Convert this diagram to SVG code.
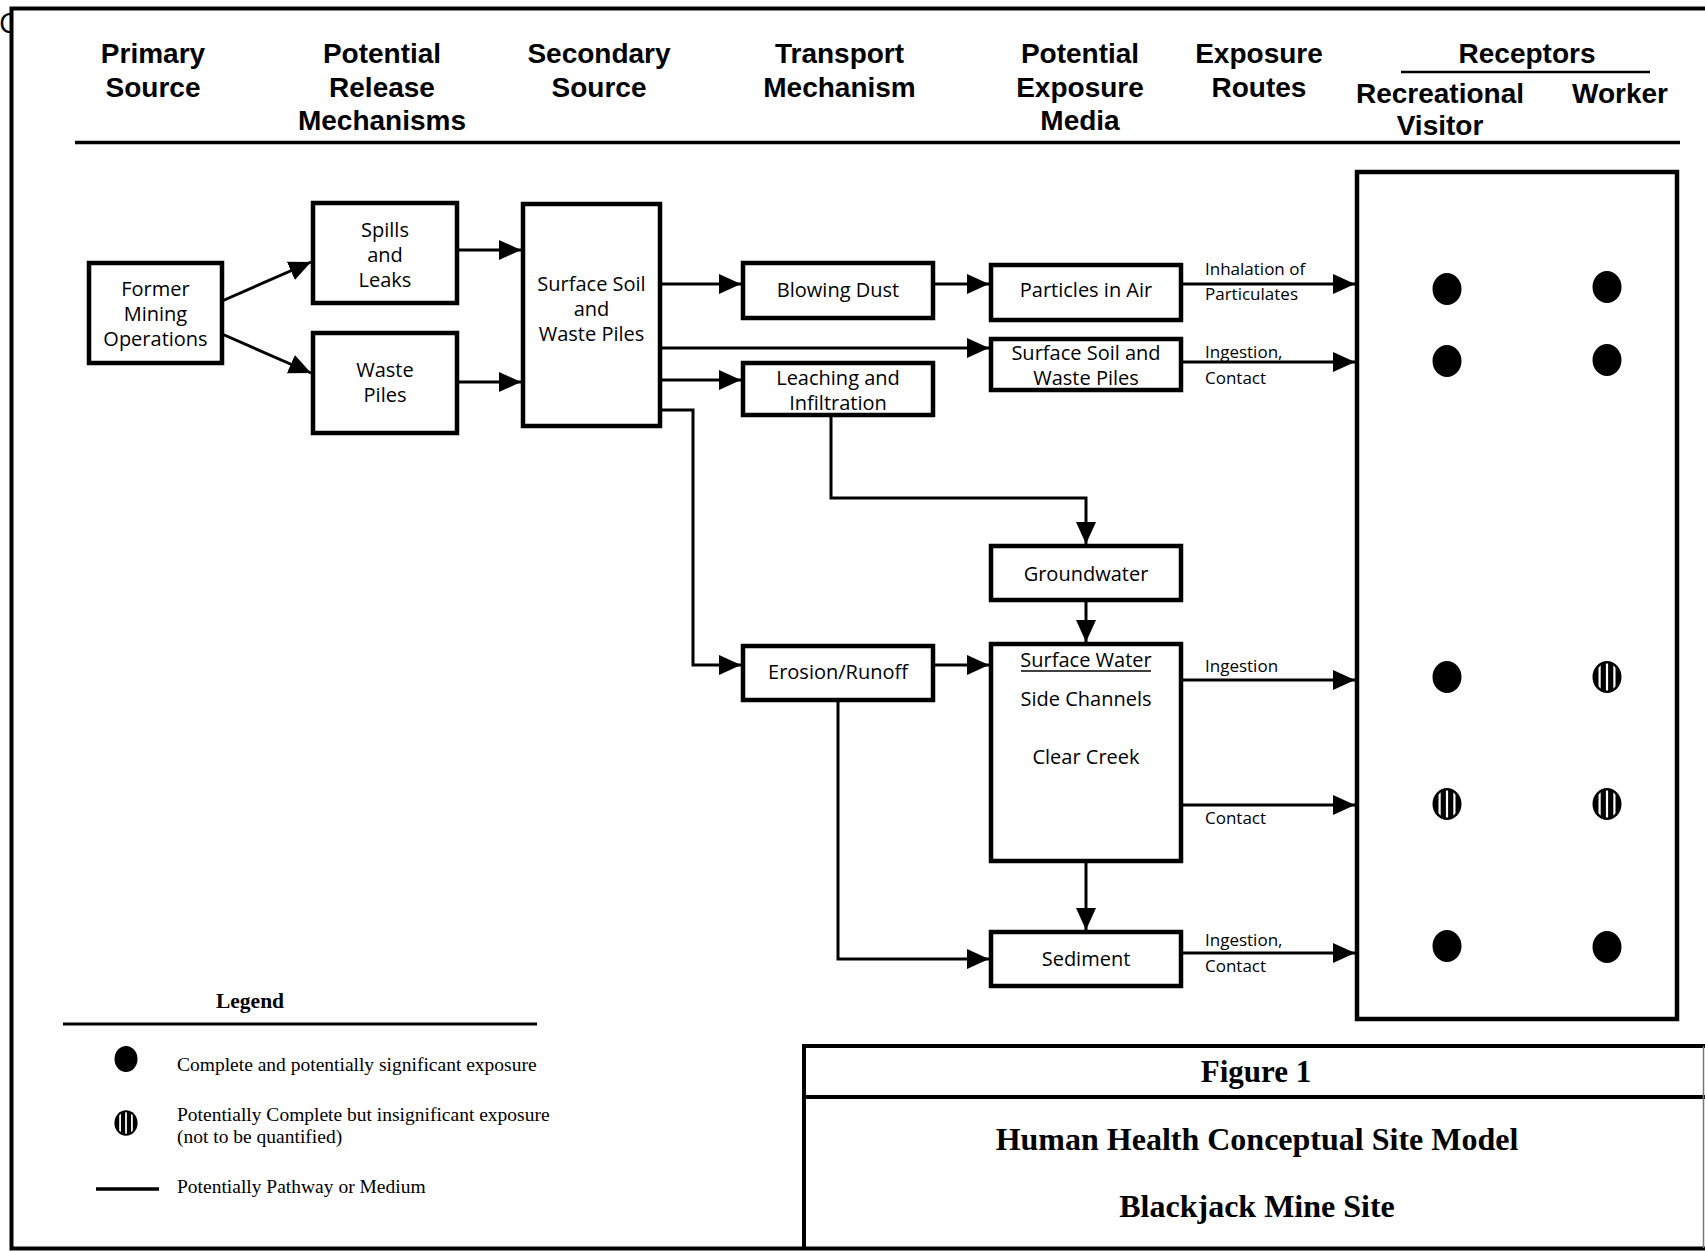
<svg xmlns="http://www.w3.org/2000/svg" xmlns:xlink="http://www.w3.org/1999/xlink" width="1705" height="1251" viewBox="0 0 1705 1251">
<style>
.hd{font-family:"Liberation Sans",Arial,sans-serif;font-weight:bold;font-size:28px;fill:#000;text-anchor:middle}
.bx{fill:#fff;stroke:#000;stroke-width:4.5}
.bt{font-family:"Open Sans","Liberation Sans",sans-serif;font-size:20px;fill:#000;text-anchor:middle}
.lb{font-family:"Open Sans","Liberation Sans",sans-serif;font-size:17px;fill:#000}
.cn{fill:none;stroke:#000;stroke-width:3}
.ln{stroke:#000;stroke-width:3.5}
.lg{font-family:"Liberation Serif","Times New Roman",serif;font-size:19.5px;fill:#000}
.ti{font-family:"Liberation Serif","Times New Roman",serif;font-weight:bold;fill:#000;text-anchor:middle}
</style>
<defs>
<marker id="ah" markerUnits="userSpaceOnUse" markerWidth="22" markerHeight="20" refX="22" refY="10" orient="auto">
<path d="M0,0 L22,10 L0,20 z" fill="#000"/>
</marker>
<clipPath id="clipC"><rect x="0" y="0" width="10" height="40"/></clipPath>
<clipPath id="stripeClip"><ellipse cx="0" cy="0" rx="12" ry="13.5"/></clipPath>
<g id="dot"><ellipse cx="0" cy="0" rx="14.5" ry="16" fill="#000"/></g>
<g id="sdot">
<ellipse cx="0" cy="0" rx="14.5" ry="16" fill="#000"/>
<g clip-path="url(#stripeClip)" fill="#fff">
<rect x="-8.5" y="-16" width="2.2" height="32"/>
<rect x="-1.1" y="-16" width="2.2" height="32"/>
<rect x="6.3" y="-16" width="2.2" height="32"/>
</g>
</g>
</defs>
<rect width="1705" height="1251" fill="#fff"/>

<text x="-1" y="33" clip-path="url(#clipC)" style="font-family:'Open Sans',sans-serif;font-size:28px">C</text>

<!-- frame -->
<g id="frame" fill="none" stroke="#000">
<path d="M1705,8.5 H11.5 V1248.5 H1705" stroke-width="4"/>
</g>

<!-- headers -->
<g id="headers">
<text class="hd" x="153" y="63">Primary</text>
<text class="hd" x="153" y="97">Source</text>
<text class="hd" x="382" y="63">Potential</text>
<text class="hd" x="382" y="97">Release</text>
<text class="hd" x="382" y="130">Mechanisms</text>
<text class="hd" x="599" y="63">Secondary</text>
<text class="hd" x="599" y="97">Source</text>
<text class="hd" x="839.5" y="63">Transport</text>
<text class="hd" x="839.5" y="97">Mechanism</text>
<text class="hd" x="1080" y="63">Potential</text>
<text class="hd" x="1080" y="97">Exposure</text>
<text class="hd" x="1080" y="130">Media</text>
<text class="hd" x="1259" y="63">Exposure</text>
<text class="hd" x="1259" y="97">Routes</text>
<text class="hd" x="1527" y="63">Receptors</text>
<line class="ln" x1="1401" y1="72" x2="1650" y2="72" style="stroke-width:2.5"/>
<text class="hd" x="1440" y="103">Recreational</text>
<text class="hd" x="1440" y="135">Visitor</text>
<text class="hd" x="1620" y="103">Worker</text>
<line class="ln" x1="75" y1="142.5" x2="1680" y2="142.5"/>
</g>

<!-- connectors -->
<g id="connectors">
<path class="cn" d="M222,301 L311,262" marker-end="url(#ah)"/>
<path class="cn" d="M222,334 L311,373" marker-end="url(#ah)"/>
<path class="cn" d="M457,250 H521" marker-end="url(#ah)"/>
<path class="cn" d="M457,382 H521" marker-end="url(#ah)"/>
<path class="cn" d="M660,284 H741" marker-end="url(#ah)"/>
<path class="cn" d="M933,284 H989" marker-end="url(#ah)"/>
<path class="cn" d="M660,348 H989" marker-end="url(#ah)"/>
<path class="cn" d="M660,380 H741" marker-end="url(#ah)"/>
<path class="cn" d="M660,410 H693 V665 H741" marker-end="url(#ah)"/>
<path class="cn" d="M831,415 V498 H1086 V544" marker-end="url(#ah)"/>
<path class="cn" d="M1086,600 V642" marker-end="url(#ah)"/>
<path class="cn" d="M933,665 H989" marker-end="url(#ah)"/>
<path class="cn" d="M838,700 V959 H989" marker-end="url(#ah)"/>
<path class="cn" d="M1086,861 V930" marker-end="url(#ah)"/>
<path class="cn" d="M1181,284 H1355" marker-end="url(#ah)"/>
<path class="cn" d="M1181,362 H1355" marker-end="url(#ah)"/>
<path class="cn" d="M1181,680 H1355" marker-end="url(#ah)"/>
<path class="cn" d="M1181,805 H1355" marker-end="url(#ah)"/>
<path class="cn" d="M1181,953 H1355" marker-end="url(#ah)"/>
<text class="lb" x="1205" y="275">Inhalation of</text>
<text class="lb" x="1205" y="300">Particulates</text>
<text class="lb" x="1205" y="358">Ingestion,</text>
<text class="lb" x="1205" y="384">Contact</text>
<text class="lb" x="1205" y="672">Ingestion</text>
<text class="lb" x="1205" y="824">Contact</text>
<text class="lb" x="1205" y="946">Ingestion,</text>
<text class="lb" x="1205" y="972">Contact</text>
</g>

<!-- nodes -->
<g id="former">
<rect class="bx" x="89" y="263" width="133" height="100"/>
<text class="bt" x="155.5" y="296">Former</text>
<text class="bt" x="155.5" y="321">Mining</text>
<text class="bt" x="155.5" y="346">Operations</text>
</g>
<g id="spills">
<rect class="bx" x="313" y="203" width="144" height="100"/>
<text class="bt" x="385" y="237">Spills</text>
<text class="bt" x="385" y="262">and</text>
<text class="bt" x="385" y="287">Leaks</text>
</g>
<g id="wastepiles">
<rect class="bx" x="313" y="333" width="144" height="100"/>
<text class="bt" x="385" y="377">Waste</text>
<text class="bt" x="385" y="402">Piles</text>
</g>
<g id="secondary">
<rect class="bx" x="523" y="204" width="137" height="222"/>
<text class="bt" x="591.5" y="291">Surface Soil</text>
<text class="bt" x="591.5" y="316">and</text>
<text class="bt" x="591.5" y="341">Waste Piles</text>
</g>
<g id="blowingdust">
<rect class="bx" x="743" y="263" width="190" height="55"/>
<text class="bt" x="838" y="297">Blowing Dust</text>
</g>
<g id="leaching">
<rect class="bx" x="743" y="363" width="190" height="52"/>
<text class="bt" x="838" y="385">Leaching and</text>
<text class="bt" x="838" y="410">Infiltration</text>
</g>
<g id="erosion">
<rect class="bx" x="743" y="646" width="190" height="54"/>
<text class="bt" x="838" y="679">Erosion/Runoff</text>
</g>
<g id="particles">
<rect class="bx" x="991" y="265" width="190" height="55"/>
<text class="bt" x="1086" y="297">Particles in Air</text>
</g>
<g id="mediasoil">
<rect class="bx" x="991" y="339" width="190" height="51"/>
<text class="bt" x="1086" y="360">Surface Soil and</text>
<text class="bt" x="1086" y="385">Waste Piles</text>
</g>
<g id="groundwater">
<rect class="bx" x="991" y="546" width="190" height="54"/>
<text class="bt" x="1086" y="581">Groundwater</text>
</g>
<g id="surfacewater">
<rect class="bx" x="991" y="644" width="190" height="217"/>
<text class="bt" x="1086" y="667">Surface Water</text>
<line x1="1021" y1="671" x2="1151" y2="671" stroke="#000" stroke-width="1.5"/>
<text class="bt" x="1086" y="706">Side Channels</text>
<text class="bt" x="1086" y="764">Clear Creek</text>
</g>
<g id="sediment">
<rect class="bx" x="991" y="932" width="190" height="54"/>
<text class="bt" x="1086" y="966">Sediment</text>
</g>
<g id="receptors">
<rect class="bx" x="1357" y="172" width="320" height="847"/>
<use xlink:href="#dot" x="1447" y="289"/>
<use xlink:href="#dot" x="1607" y="287"/>
<use xlink:href="#dot" x="1447" y="361"/>
<use xlink:href="#dot" x="1607" y="360"/>
<use xlink:href="#dot" x="1447" y="677"/>
<use xlink:href="#sdot" x="1607" y="677"/>
<use xlink:href="#sdot" x="1447" y="804"/>
<use xlink:href="#sdot" x="1607" y="804"/>
<use xlink:href="#dot" x="1447" y="946"/>
<use xlink:href="#dot" x="1607" y="947"/>
</g>

<!-- legend -->
<g id="legend">
<text class="ti" x="250" y="1008" style="font-size:21.5px">Legend</text>
<line class="ln" x1="63" y1="1024" x2="537" y2="1024" style="stroke-width:3"/>
<ellipse cx="126" cy="1059" rx="11.5" ry="13" fill="#000"/>
<text class="lg" x="177" y="1071">Complete and potentially significant exposure</text>
<use xlink:href="#sdot" transform="translate(126,1123) scale(0.8)"/>
<text class="lg" x="177" y="1121">Potentially Complete but insignificant exposure</text>
<text class="lg" x="177" y="1143">(not to be quantified)</text>
<line class="ln" x1="96" y1="1189" x2="159" y2="1189"/>
<text class="lg" x="177" y="1193">Potentially Pathway or Medium</text>
</g>

<!-- title block -->
<g id="titleblock">
<path d="M1705,1046 H804 V1248" fill="none" stroke="#000" stroke-width="4"/>
<line x1="804" y1="1097" x2="1705" y2="1097" stroke="#000" stroke-width="4"/>
<line x1="1703.5" y1="1046" x2="1703.5" y2="1248" stroke="#777" stroke-width="1.5"/>
<text class="ti" x="1256" y="1082" style="font-size:31px">Figure 1</text>
<text class="ti" x="1257" y="1150" style="font-size:32px">Human Health Conceptual Site Model</text>
<text class="ti" x="1257" y="1217" style="font-size:32px">Blackjack Mine Site</text>
</g>
</svg>
